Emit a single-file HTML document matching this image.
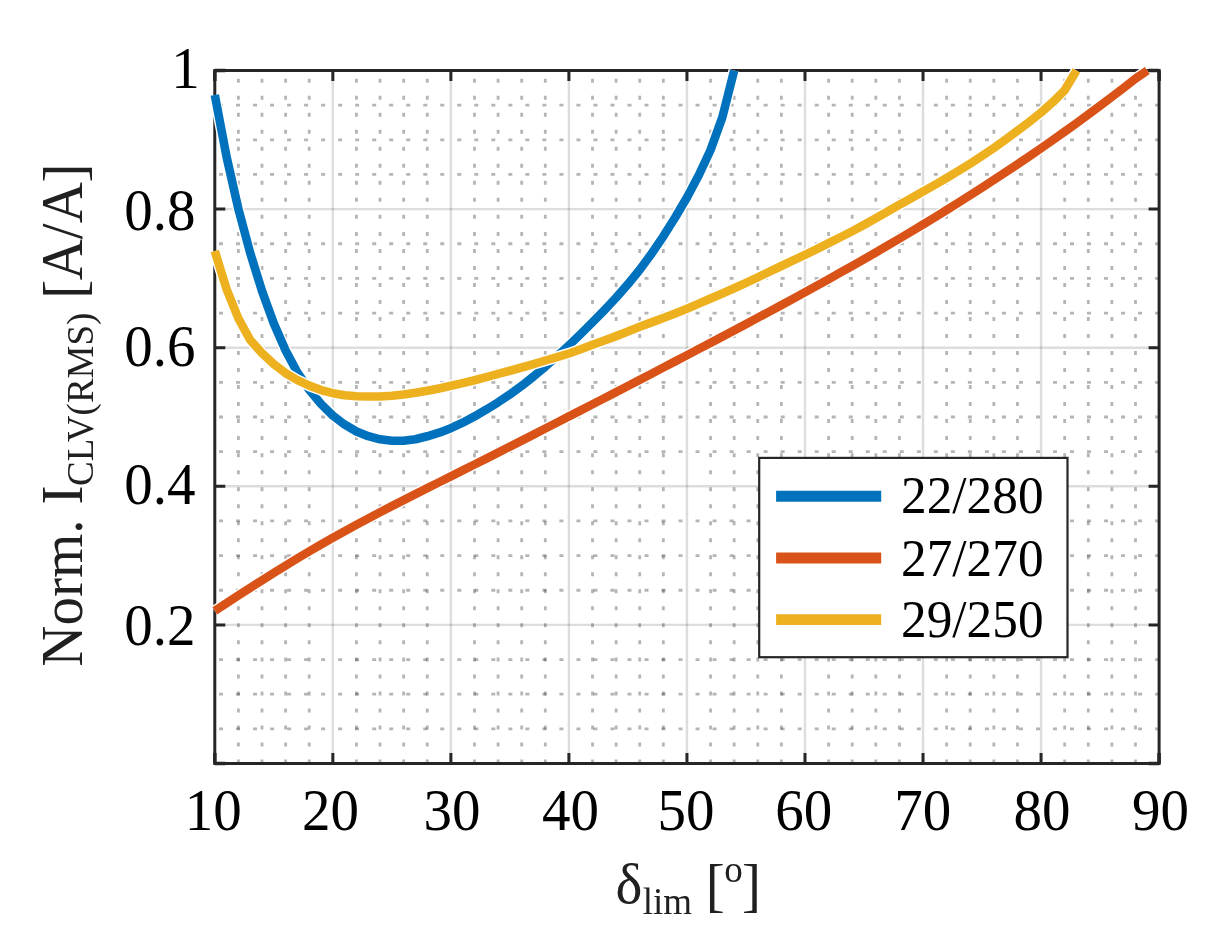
<!DOCTYPE html>
<html lang="en"><head><meta charset="utf-8"><title>Norm. I CLV(RMS) vs delta lim</title>
<style>html,body{margin:0;padding:0;background:#fff}svg{display:block}text{font-family:"Liberation Serif","Times New Roman",serif}</style></head><body>
<svg width="1212" height="945" viewBox="0 0 1212 945">
<rect width="1212" height="945" fill="#fff"/>
<g stroke="#262626" stroke-opacity="0.34" stroke-width="2.8" fill="none" stroke-dasharray="4 13.02">
<path d="M238.41 763.50V70.50"/>
<path d="M262.01 763.50V70.50"/>
<path d="M285.62 763.50V70.50"/>
<path d="M309.23 763.50V70.50"/>
<path d="M356.44 763.50V70.50"/>
<path d="M380.05 763.50V70.50"/>
<path d="M403.66 763.50V70.50"/>
<path d="M427.27 763.50V70.50"/>
<path d="M474.48 763.50V70.50"/>
<path d="M498.09 763.50V70.50"/>
<path d="M521.70 763.50V70.50"/>
<path d="M545.31 763.50V70.50"/>
<path d="M592.52 763.50V70.50"/>
<path d="M616.13 763.50V70.50"/>
<path d="M639.73 763.50V70.50"/>
<path d="M663.34 763.50V70.50"/>
<path d="M710.56 763.50V70.50"/>
<path d="M734.16 763.50V70.50"/>
<path d="M757.77 763.50V70.50"/>
<path d="M781.38 763.50V70.50"/>
<path d="M828.60 763.50V70.50"/>
<path d="M852.20 763.50V70.50"/>
<path d="M875.81 763.50V70.50"/>
<path d="M899.42 763.50V70.50"/>
<path d="M946.63 763.50V70.50"/>
<path d="M970.24 763.50V70.50"/>
<path d="M993.85 763.50V70.50"/>
<path d="M1017.45 763.50V70.50"/>
<path d="M1064.67 763.50V70.50"/>
<path d="M1088.28 763.50V70.50"/>
<path d="M1111.88 763.50V70.50"/>
<path d="M1135.49 763.50V70.50"/>
<path d="M1159.10 728.85H214.80"/>
<path d="M1159.10 694.20H214.80"/>
<path d="M1159.10 659.55H214.80"/>
<path d="M1159.10 590.25H214.80"/>
<path d="M1159.10 555.60H214.80"/>
<path d="M1159.10 520.95H214.80"/>
<path d="M1159.10 451.65H214.80"/>
<path d="M1159.10 417.00H214.80"/>
<path d="M1159.10 382.35H214.80"/>
<path d="M1159.10 313.05H214.80"/>
<path d="M1159.10 278.40H214.80"/>
<path d="M1159.10 243.75H214.80"/>
<path d="M1159.10 174.45H214.80"/>
<path d="M1159.10 139.80H214.80"/>
<path d="M1159.10 105.15H214.80"/>
</g>
<g stroke="#262626" stroke-opacity="0.155" stroke-width="2.4" fill="none">
<path d="M332.84 763.50V70.50"/>
<path d="M450.88 763.50V70.50"/>
<path d="M568.91 763.50V70.50"/>
<path d="M686.95 763.50V70.50"/>
<path d="M804.99 763.50V70.50"/>
<path d="M923.03 763.50V70.50"/>
<path d="M1041.06 763.50V70.50"/>
<path d="M214.80 624.90H1159.10"/>
<path d="M214.80 486.30H1159.10"/>
<path d="M214.80 347.70H1159.10"/>
<path d="M214.80 209.10H1159.10"/>
</g>
<g stroke="#262626" stroke-width="3" fill="none">
<path d="M332.84 763.50v-10.5M332.84 70.50v10.5"/>
<path d="M450.88 763.50v-10.5M450.88 70.50v10.5"/>
<path d="M568.91 763.50v-10.5M568.91 70.50v10.5"/>
<path d="M686.95 763.50v-10.5M686.95 70.50v10.5"/>
<path d="M804.99 763.50v-10.5M804.99 70.50v10.5"/>
<path d="M923.03 763.50v-10.5M923.03 70.50v10.5"/>
<path d="M1041.06 763.50v-10.5M1041.06 70.50v10.5"/>
<path d="M214.80 624.90h10.5M1159.10 624.90h-10.5"/>
<path d="M214.80 486.30h10.5M1159.10 486.30h-10.5"/>
<path d="M214.80 347.70h10.5M1159.10 347.70h-10.5"/>
<path d="M214.80 209.10h10.5M1159.10 209.10h-10.5"/>
<rect x="214.80" y="70.50" width="944.30" height="693.00"/>
<path stroke-width="3.6" d="M214.80 763.50v-10.5M214.80 70.50v10.5"/>
<path stroke-width="3.6" d="M1159.10 763.50v-10.5M1159.10 70.50v10.5"/>
<path stroke-width="3.4" d="M214.80 70.50h10.5M1159.10 70.50h-10.5"/>
<path stroke-width="3.4" d="M214.80 763.50h10.5M1159.10 763.50h-10.5"/>
</g>
<g fill="none" stroke-linejoin="round">
<path stroke="#fff" stroke-width="11.4" d="M214.80 95.00 L226.60 157.00 L238.41 209.00 L250.21 253.00 L262.01 291.00 L273.82 323.50 L285.62 350.50 L297.43 372.50 L309.23 389.80 L321.03 404.00 L332.84 415.60 L344.64 424.60 L356.44 431.40 L368.25 436.20 L380.05 439.30 L391.86 440.80 L403.66 440.80 L415.46 439.20 L427.27 436.30 L439.07 432.70 L450.88 428.20 L462.68 422.70 L474.48 416.40 L486.29 409.60 L498.09 402.30 L509.89 394.40 L521.70 385.80 L533.50 376.50 L545.31 366.60 L557.11 356.20 L568.91 345.30 L580.72 334.00 L592.52 322.30 L604.32 310.20 L616.13 297.60 L627.93 284.20 L639.73 269.70 L651.54 253.70 L663.34 236.30 L675.15 217.50 L686.95 197.50 L698.75 175.30 L710.56 150.00 L722.36 117.30 L734.16 70.50"/>
<path stroke="#0072bd" stroke-width="8.6" d="M214.80 95.00 L226.60 157.00 L238.41 209.00 L250.21 253.00 L262.01 291.00 L273.82 323.50 L285.62 350.50 L297.43 372.50 L309.23 389.80 L321.03 404.00 L332.84 415.60 L344.64 424.60 L356.44 431.40 L368.25 436.20 L380.05 439.30 L391.86 440.80 L403.66 440.80 L415.46 439.20 L427.27 436.30 L439.07 432.70 L450.88 428.20 L462.68 422.70 L474.48 416.40 L486.29 409.60 L498.09 402.30 L509.89 394.40 L521.70 385.80 L533.50 376.50 L545.31 366.60 L557.11 356.20 L568.91 345.30 L580.72 334.00 L592.52 322.30 L604.32 310.20 L616.13 297.60 L627.93 284.20 L639.73 269.70 L651.54 253.70 L663.34 236.30 L675.15 217.50 L686.95 197.50 L698.75 175.30 L710.56 150.00 L722.36 117.30 L734.16 70.50"/>
<path stroke="#fff" stroke-width="11.4" d="M214.80 610.92 L226.60 603.12 L238.41 595.41 L250.21 587.79 L262.01 580.27 L273.82 572.86 L285.62 565.57 L297.43 558.40 L309.23 551.37 L321.03 544.49 L332.84 537.76 L344.64 531.18 L356.44 524.75 L368.25 518.45 L380.05 512.25 L391.86 506.15 L403.66 500.11 L415.46 494.14 L427.27 488.20 L439.07 482.28 L450.88 476.37 L462.68 470.44 L474.48 464.50 L486.29 458.54 L498.09 452.57 L509.89 446.58 L521.70 440.58 L533.50 434.57 L545.31 428.54 L557.11 422.50 L568.91 416.45 L580.72 410.38 L592.52 404.30 L604.32 398.21 L616.13 392.10 L627.93 385.98 L639.73 379.86 L651.54 373.71 L663.34 367.56 L675.15 361.40 L686.95 355.22 L698.75 349.04 L710.56 342.83 L722.36 336.61 L734.16 330.37 L745.97 324.10 L757.77 317.81 L769.58 311.48 L781.38 305.11 L793.18 298.70 L804.99 292.25 L816.79 285.75 L828.60 279.20 L840.40 272.59 L852.20 265.92 L864.01 259.20 L875.81 252.40 L887.61 245.53 L899.42 238.60 L911.22 231.58 L923.03 224.48 L934.83 217.30 L946.63 210.03 L958.44 202.66 L970.24 195.20 L982.04 187.64 L993.85 179.98 L1005.65 172.21 L1017.45 164.33 L1029.26 156.34 L1041.06 148.22 L1052.87 139.99 L1064.67 131.63 L1076.47 123.14 L1088.28 114.51 L1100.08 105.76 L1111.88 96.86 L1123.69 87.81 L1135.49 78.62 L1147.30 70.50"/>
<path stroke="#d95319" stroke-width="8.6" d="M214.80 610.92 L226.60 603.12 L238.41 595.41 L250.21 587.79 L262.01 580.27 L273.82 572.86 L285.62 565.57 L297.43 558.40 L309.23 551.37 L321.03 544.49 L332.84 537.76 L344.64 531.18 L356.44 524.75 L368.25 518.45 L380.05 512.25 L391.86 506.15 L403.66 500.11 L415.46 494.14 L427.27 488.20 L439.07 482.28 L450.88 476.37 L462.68 470.44 L474.48 464.50 L486.29 458.54 L498.09 452.57 L509.89 446.58 L521.70 440.58 L533.50 434.57 L545.31 428.54 L557.11 422.50 L568.91 416.45 L580.72 410.38 L592.52 404.30 L604.32 398.21 L616.13 392.10 L627.93 385.98 L639.73 379.86 L651.54 373.71 L663.34 367.56 L675.15 361.40 L686.95 355.22 L698.75 349.04 L710.56 342.83 L722.36 336.61 L734.16 330.37 L745.97 324.10 L757.77 317.81 L769.58 311.48 L781.38 305.11 L793.18 298.70 L804.99 292.25 L816.79 285.75 L828.60 279.20 L840.40 272.59 L852.20 265.92 L864.01 259.20 L875.81 252.40 L887.61 245.53 L899.42 238.60 L911.22 231.58 L923.03 224.48 L934.83 217.30 L946.63 210.03 L958.44 202.66 L970.24 195.20 L982.04 187.64 L993.85 179.98 L1005.65 172.21 L1017.45 164.33 L1029.26 156.34 L1041.06 148.22 L1052.87 139.99 L1064.67 131.63 L1076.47 123.14 L1088.28 114.51 L1100.08 105.76 L1111.88 96.86 L1123.69 87.81 L1135.49 78.62 L1147.30 70.50"/>
<path stroke="#fff" stroke-width="11.4" d="M214.80 251.00 L226.60 289.26 L238.41 318.51 L250.21 340.00 L262.01 353.20 L273.82 364.18 L285.62 373.20 L297.43 380.14 L309.23 385.60 L321.03 390.03 L332.84 393.20 L344.64 395.21 L356.44 396.30 L368.25 396.57 L380.05 396.50 L391.86 395.76 L403.66 394.50 L415.46 392.86 L427.27 390.80 L439.07 388.43 L450.88 385.80 L462.68 383.08 L474.48 380.20 L486.29 377.10 L498.09 373.90 L509.89 370.74 L521.70 367.50 L533.50 364.04 L545.31 360.50 L557.11 357.09 L568.91 353.50 L580.72 349.27 L592.52 344.80 L604.32 340.49 L616.13 336.10 L627.93 331.46 L639.73 326.80 L651.54 322.40 L663.34 318.00 L675.15 313.44 L686.95 308.70 L698.75 303.66 L710.56 298.50 L722.36 293.45 L734.16 288.30 L745.97 282.87 L757.77 277.30 L769.58 271.66 L781.38 266.00 L793.18 260.42 L804.99 254.80 L816.79 249.05 L828.60 243.20 L840.40 237.28 L852.20 231.20 L864.01 224.84 L875.81 218.30 L887.61 211.57 L899.42 204.80 L911.22 198.21 L923.03 191.60 L934.83 184.87 L946.63 178.00 L958.44 170.92 L970.24 163.60 L982.04 155.97 L993.85 148.00 L1005.65 139.57 L1017.45 130.80 L1029.26 121.88 L1041.06 112.50 L1052.87 102.10 L1064.67 90.20 L1076.47 70.50"/>
<path stroke="#edb120" stroke-width="8.6" d="M214.80 251.00 L226.60 289.26 L238.41 318.51 L250.21 340.00 L262.01 353.20 L273.82 364.18 L285.62 373.20 L297.43 380.14 L309.23 385.60 L321.03 390.03 L332.84 393.20 L344.64 395.21 L356.44 396.30 L368.25 396.57 L380.05 396.50 L391.86 395.76 L403.66 394.50 L415.46 392.86 L427.27 390.80 L439.07 388.43 L450.88 385.80 L462.68 383.08 L474.48 380.20 L486.29 377.10 L498.09 373.90 L509.89 370.74 L521.70 367.50 L533.50 364.04 L545.31 360.50 L557.11 357.09 L568.91 353.50 L580.72 349.27 L592.52 344.80 L604.32 340.49 L616.13 336.10 L627.93 331.46 L639.73 326.80 L651.54 322.40 L663.34 318.00 L675.15 313.44 L686.95 308.70 L698.75 303.66 L710.56 298.50 L722.36 293.45 L734.16 288.30 L745.97 282.87 L757.77 277.30 L769.58 271.66 L781.38 266.00 L793.18 260.42 L804.99 254.80 L816.79 249.05 L828.60 243.20 L840.40 237.28 L852.20 231.20 L864.01 224.84 L875.81 218.30 L887.61 211.57 L899.42 204.80 L911.22 198.21 L923.03 191.60 L934.83 184.87 L946.63 178.00 L958.44 170.92 L970.24 163.60 L982.04 155.97 L993.85 148.00 L1005.65 139.57 L1017.45 130.80 L1029.26 121.88 L1041.06 112.50 L1052.87 102.10 L1064.67 90.20 L1076.47 70.50"/>
</g>
<g font-size="58" fill="#000">
<text transform="translate(213.20 829.6) scale(0.9828 1.02)" text-anchor="middle">10</text>
<text transform="translate(330.44 829.6) scale(0.9828 1.02)" text-anchor="middle">20</text>
<text transform="translate(451.88 829.6) scale(0.9828 1.02)" text-anchor="middle">30</text>
<text transform="translate(570.41 829.6) scale(0.9828 1.02)" text-anchor="middle">40</text>
<text transform="translate(686.05 829.6) scale(0.9828 1.02)" text-anchor="middle">50</text>
<text transform="translate(803.79 829.6) scale(0.9828 1.02)" text-anchor="middle">60</text>
<text transform="translate(922.63 829.6) scale(0.9828 1.02)" text-anchor="middle">70</text>
<text transform="translate(1042.06 829.6) scale(0.9828 1.02)" text-anchor="middle">80</text>
<text transform="translate(1160.50 829.6) scale(0.9828 1.02)" text-anchor="middle">90</text>
<text transform="translate(124.3 229.8) scale(0.9828 1.02)">0.8</text>
<text transform="translate(124.3 365.6) scale(0.9828 1.02)">0.6</text>
<text transform="translate(124.3 504.1) scale(0.9828 1.02)">0.4</text>
<text transform="translate(124.3 644.5) scale(0.9828 1.02)">0.2</text>
<text transform="translate(171.2 87.9) scale(0.9828 1.02)">1</text>
</g>
<g fill="#202020">
<text x="615.4" y="902.8" font-size="57">δ</text>
<text x="642.75" y="913.8" font-size="37">lim</text>
<text transform="translate(705.85 905.27) scale(1 1.045)" font-size="57">[</text>
<text x="724.2" y="881.6" font-size="37">o</text>
<text transform="translate(742 905.27) scale(1 1.045)" font-size="57">]</text>
</g>
<g fill="#202020" transform="rotate(-90)">
<text transform="translate(-666.75 82.2) scale(1 1.03)" font-size="57">Norm.</text>
<text transform="translate(-504.5 82) scale(1 1.03)" font-size="57">I</text>
<text x="-486.05" y="92.8" font-size="37">CLV(RMS)</text>
<text transform="translate(-298.75 84.27) scale(1 1.045)" font-size="57">[</text>
<text transform="translate(-280.3 82) scale(1 1.03)" font-size="57">A/A</text>
<text transform="translate(-182.5 84.27) scale(1 1.045)" font-size="57">]</text>
</g>
<rect x="759.2" y="457.9" width="308.3" height="199.3" fill="#fff" stroke="#262626" stroke-width="2.2"/>
<path d="M776.1 496.3H881.2" stroke="#0072bd" stroke-width="10.9" fill="none"/>
<path d="M776.1 558.0H881.2" stroke="#d95319" stroke-width="10.9" fill="none"/>
<path d="M776.1 619.6H881.2" stroke="#edb120" stroke-width="10.9" fill="none"/>
<g font-size="51.3" fill="#000">
<text transform="translate(901.05 513.2) scale(1 1.025)">22/280</text>
<text transform="translate(901.05 575.55) scale(1 1.025)">27/270</text>
<text transform="translate(901.05 637.35) scale(1 1.025)">29/250</text>
</g>
</svg></body></html>
